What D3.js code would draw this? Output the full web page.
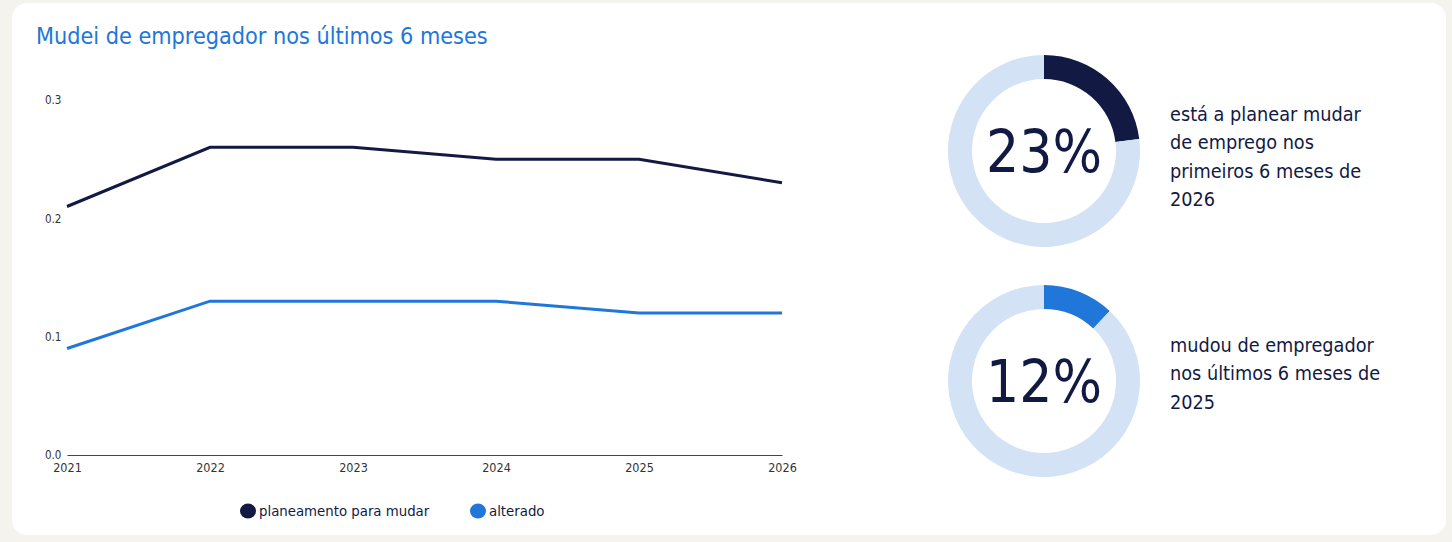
<!DOCTYPE html>
<html><head><meta charset="utf-8">
<script src="https://cdn.jsdelivr.net/npm/d3@7"></script>
<style>
html,body{margin:0;padding:0;background:#f4f3ee;}
svg{display:block;}
text{font-family:"DejaVu Sans Condensed","DejaVu Sans",sans-serif;}
</style></head>
<body>
<svg id="c" width="1452" height="542"></svg>
<script>
const years = [2021, 2022, 2023, 2024, 2025, 2026];
const planning = [0.21, 0.26, 0.26, 0.25, 0.25, 0.23];
const changed = [0.09, 0.13, 0.13, 0.13, 0.12, 0.12];
const yTicks = [0, 0.1, 0.2, 0.3];
const seriesNames = ["planeamento para mudar", "alterado"];
const seriesColors = ["#121a44", "#2176d9"];
const donutValues = [0.23, 0.12];
const donutLabels = ["23%", "12%"];
const donutTexts = [
  ["está a planear mudar", "de emprego nos", "primeiros 6 meses de", "2026"],
  ["mudou de empregador", "nos últimos 6 meses de", "2025"]
];
const titleText = "Mudei de empregador nos últimos 6 meses";

const svg = d3.select("#c");
svg.append("rect").attr("x",12).attr("y",3).attr("width",1434).attr("height",532)
  .attr("rx",15).attr("fill","#ffffff");

svg.append("text").attr("x",36).attr("y",44).attr("font-size",23.2).attr("fill","#2176d9").text(titleText);

const x = d3.scalePoint().domain(years).range([67, 782]);
const y = d3.scaleLinear().domain([0, 0.3]).range([455, 100]);

const gx = svg.append("g").attr("transform","translate(0,455)")
  .call(d3.axisBottom(x).tickSize(0).tickPadding(8).tickFormat(d3.format("d")));
gx.select(".domain").attr("stroke","#444").attr("stroke-width",1.2);
gx.selectAll("text").attr("font-size",12.5).attr("fill","#333").attr("font-family",null);

const gy = svg.append("g").attr("transform","translate(67,0)")
  .call(d3.axisLeft(y).tickValues(yTicks).tickSize(0).tickPadding(6).tickFormat(d3.format(".1f")));
gy.select(".domain").remove();
gy.selectAll("text").attr("font-size",11.5).attr("fill","#333").attr("font-family",null)
  .attr("text-anchor","start").attr("x",-22);

const line = d3.line().x((d,i)=>x(years[i])).y(d=>y(d));
[planning, changed].forEach((s,i)=>{
  svg.append("path").datum(s).attr("d",line).attr("fill","none")
    .attr("stroke",seriesColors[i]).attr("stroke-width",3);
});

// legend
const legX = [248, 478];
seriesNames.forEach((n,i)=>{
  svg.append("ellipse").attr("cx",legX[i]).attr("cy",511).attr("rx",8).attr("ry",7.5).attr("fill",seriesColors[i]);
  svg.append("text").attr("x",legX[i]+11).attr("y",516).attr("font-size",14.8).attr("fill","#121a44").text(n);
});

// donuts
const centers = [[1044,151],[1044,381]];
const arc = d3.arc().innerRadius(72).outerRadius(96);
const pie = d3.pie().sort(null).value(d=>d);
donutValues.forEach((v,i)=>{
  const g = svg.append("g").attr("transform",`translate(${centers[i][0]},${centers[i][1]})`);
  const arcs = pie([v, 1-v]);
  g.selectAll("path").data(arcs).join("path").attr("d",arc)
    .attr("fill",(d,j)=> j===0 ? seriesColors[i] : "#d3e2f5");
  g.append("text").attr("text-anchor","middle").attr("y",21).attr("font-size",58)
    .attr("fill","#121a44").text(donutLabels[i]);
  const t = svg.append("text").attr("x",1170).attr("font-size",19.7).attr("fill","#121a44");
  const lines = donutTexts[i];
  const startY = i===0 ? 121 : 352;
  lines.forEach((l,k)=>{
    t.append("tspan").attr("x",1170).attr("y",startY + k*28.3).text(l);
  });
});
</script>
</body></html>
